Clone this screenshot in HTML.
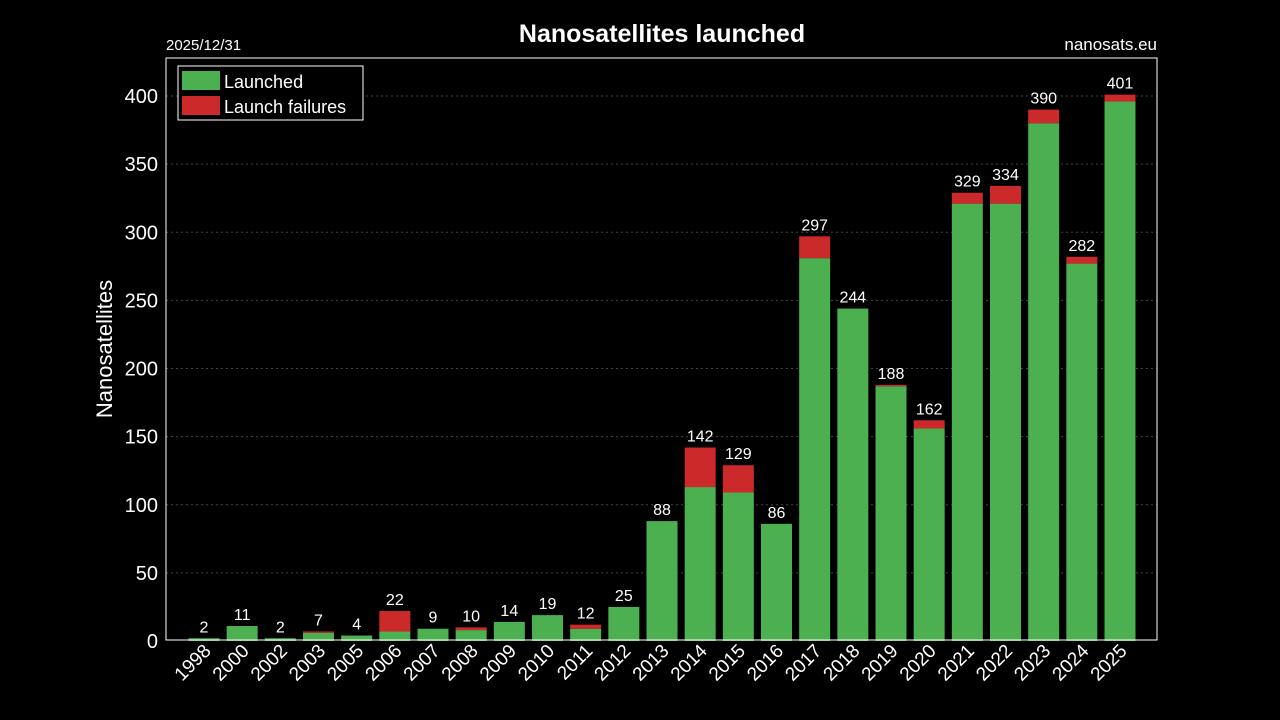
<!DOCTYPE html>
<html><head><meta charset="utf-8"><style>
html,body{margin:0;padding:0;background:#000;}
svg{display:block;font-family:"Liberation Sans",sans-serif;}
</style></head><body>
<svg id="chart" width="1280" height="720">
<rect x="0" y="0" width="1280" height="720" fill="#000"/>
<text x="662" y="42" fill="#fff" font-size="25" font-weight="bold" text-anchor="middle">Nanosatellites launched</text>
<text x="166" y="50" fill="#fff" font-size="15">2025/12/31</text>
<text x="1157" y="50" fill="#fff" font-size="17" text-anchor="end">nanosats.eu</text>
<g id="grid"></g>
<g id="bars"></g>
<g id="axes"></g>
<rect x="166" y="58" width="991" height="582" fill="none" stroke="#fff" stroke-width="1"/>
<text transform="translate(112,349) rotate(-90)" fill="#fff" font-size="22" text-anchor="middle">Nanosatellites</text>
<g>
<rect x="178" y="66" width="185" height="54" fill="#000" stroke="#fff" stroke-width="1"/>
<rect x="182" y="71" width="38" height="19" fill="#4caf50"/>
<text x="224" y="88" fill="#fff" font-size="18">Launched</text>
<rect x="182" y="96" width="38" height="19" fill="#cc2a2a"/>
<text x="224" y="113" fill="#fff" font-size="18">Launch failures</text>
</g>
</svg>
<script>
const years=["1998","2000","2002","2003","2005","2006","2007","2008","2009","2010","2011","2012","2013","2014","2015","2016","2017","2018","2019","2020","2021","2022","2023","2024","2025"];
const totals=[2,11,2,7,4,22,9,10,14,19,12,25,88,142,129,86,297,244,188,162,329,334,390,282,401];
const failures=[0,0,0,1,0,15,0,2,0,0,3,0,0,29,20,0,16,0,1,6,8,13,10,5,5];
const yTicks=[0,50,100,150,200,250,300,350,400];
const NS="http://www.w3.org/2000/svg";
const y0=641,yTop=96,left=166,right=1157;
function yS(v){return y0-v*(y0-yTop)/400;}
function xS(i){return 204+i*(1120-204)/(years.length-1);}
const bw=31;
const grid=document.getElementById('grid'),bars=document.getElementById('bars'),axes=document.getElementById('axes');
function mk(tag,attrs,parent){const e=document.createElementNS(NS,tag);for(const k in attrs)e.setAttribute(k,attrs[k]);parent.appendChild(e);return e;}
yTicks.forEach(v=>{
  const y=yS(v);
  if(v>0){const l=mk('line',{x1:left,x2:right,y1:y,y2:y,stroke:'#444','stroke-dasharray':'2,3','stroke-width':1},grid);
  
  }
  const t=mk('text',{x:left-8,y:y+7,fill:'#fff','font-size':20,'text-anchor':'end'},axes);
  t.textContent=v;
  
  
});
years.forEach((yr,i)=>{
  const x=xS(i),ok=totals[i]-failures[i];
  const g=mk('rect',{x:x-bw/2,y:yS(ok),width:bw,height:y0-yS(ok),fill:'#4caf50'},bars);
  
  
  if(failures[i]>0){
    const r=mk('rect',{x:x-bw/2,y:yS(totals[i]),width:bw,height:yS(ok)-yS(totals[i]),fill:'#cc2a2a'},bars);
    
    
  }
  const lab=mk('text',{x:x,y:yS(totals[i])-6,fill:'#fff','font-size':16,'text-anchor':'middle'},bars);
  lab.textContent=totals[i];
  
  
  const xt=mk('text',{transform:'translate('+(x+8)+',652) rotate(-45)',fill:'#fff','font-size':19,'text-anchor':'end'},axes);
  xt.textContent=yr;
  
  
});
</script>
</body></html>
